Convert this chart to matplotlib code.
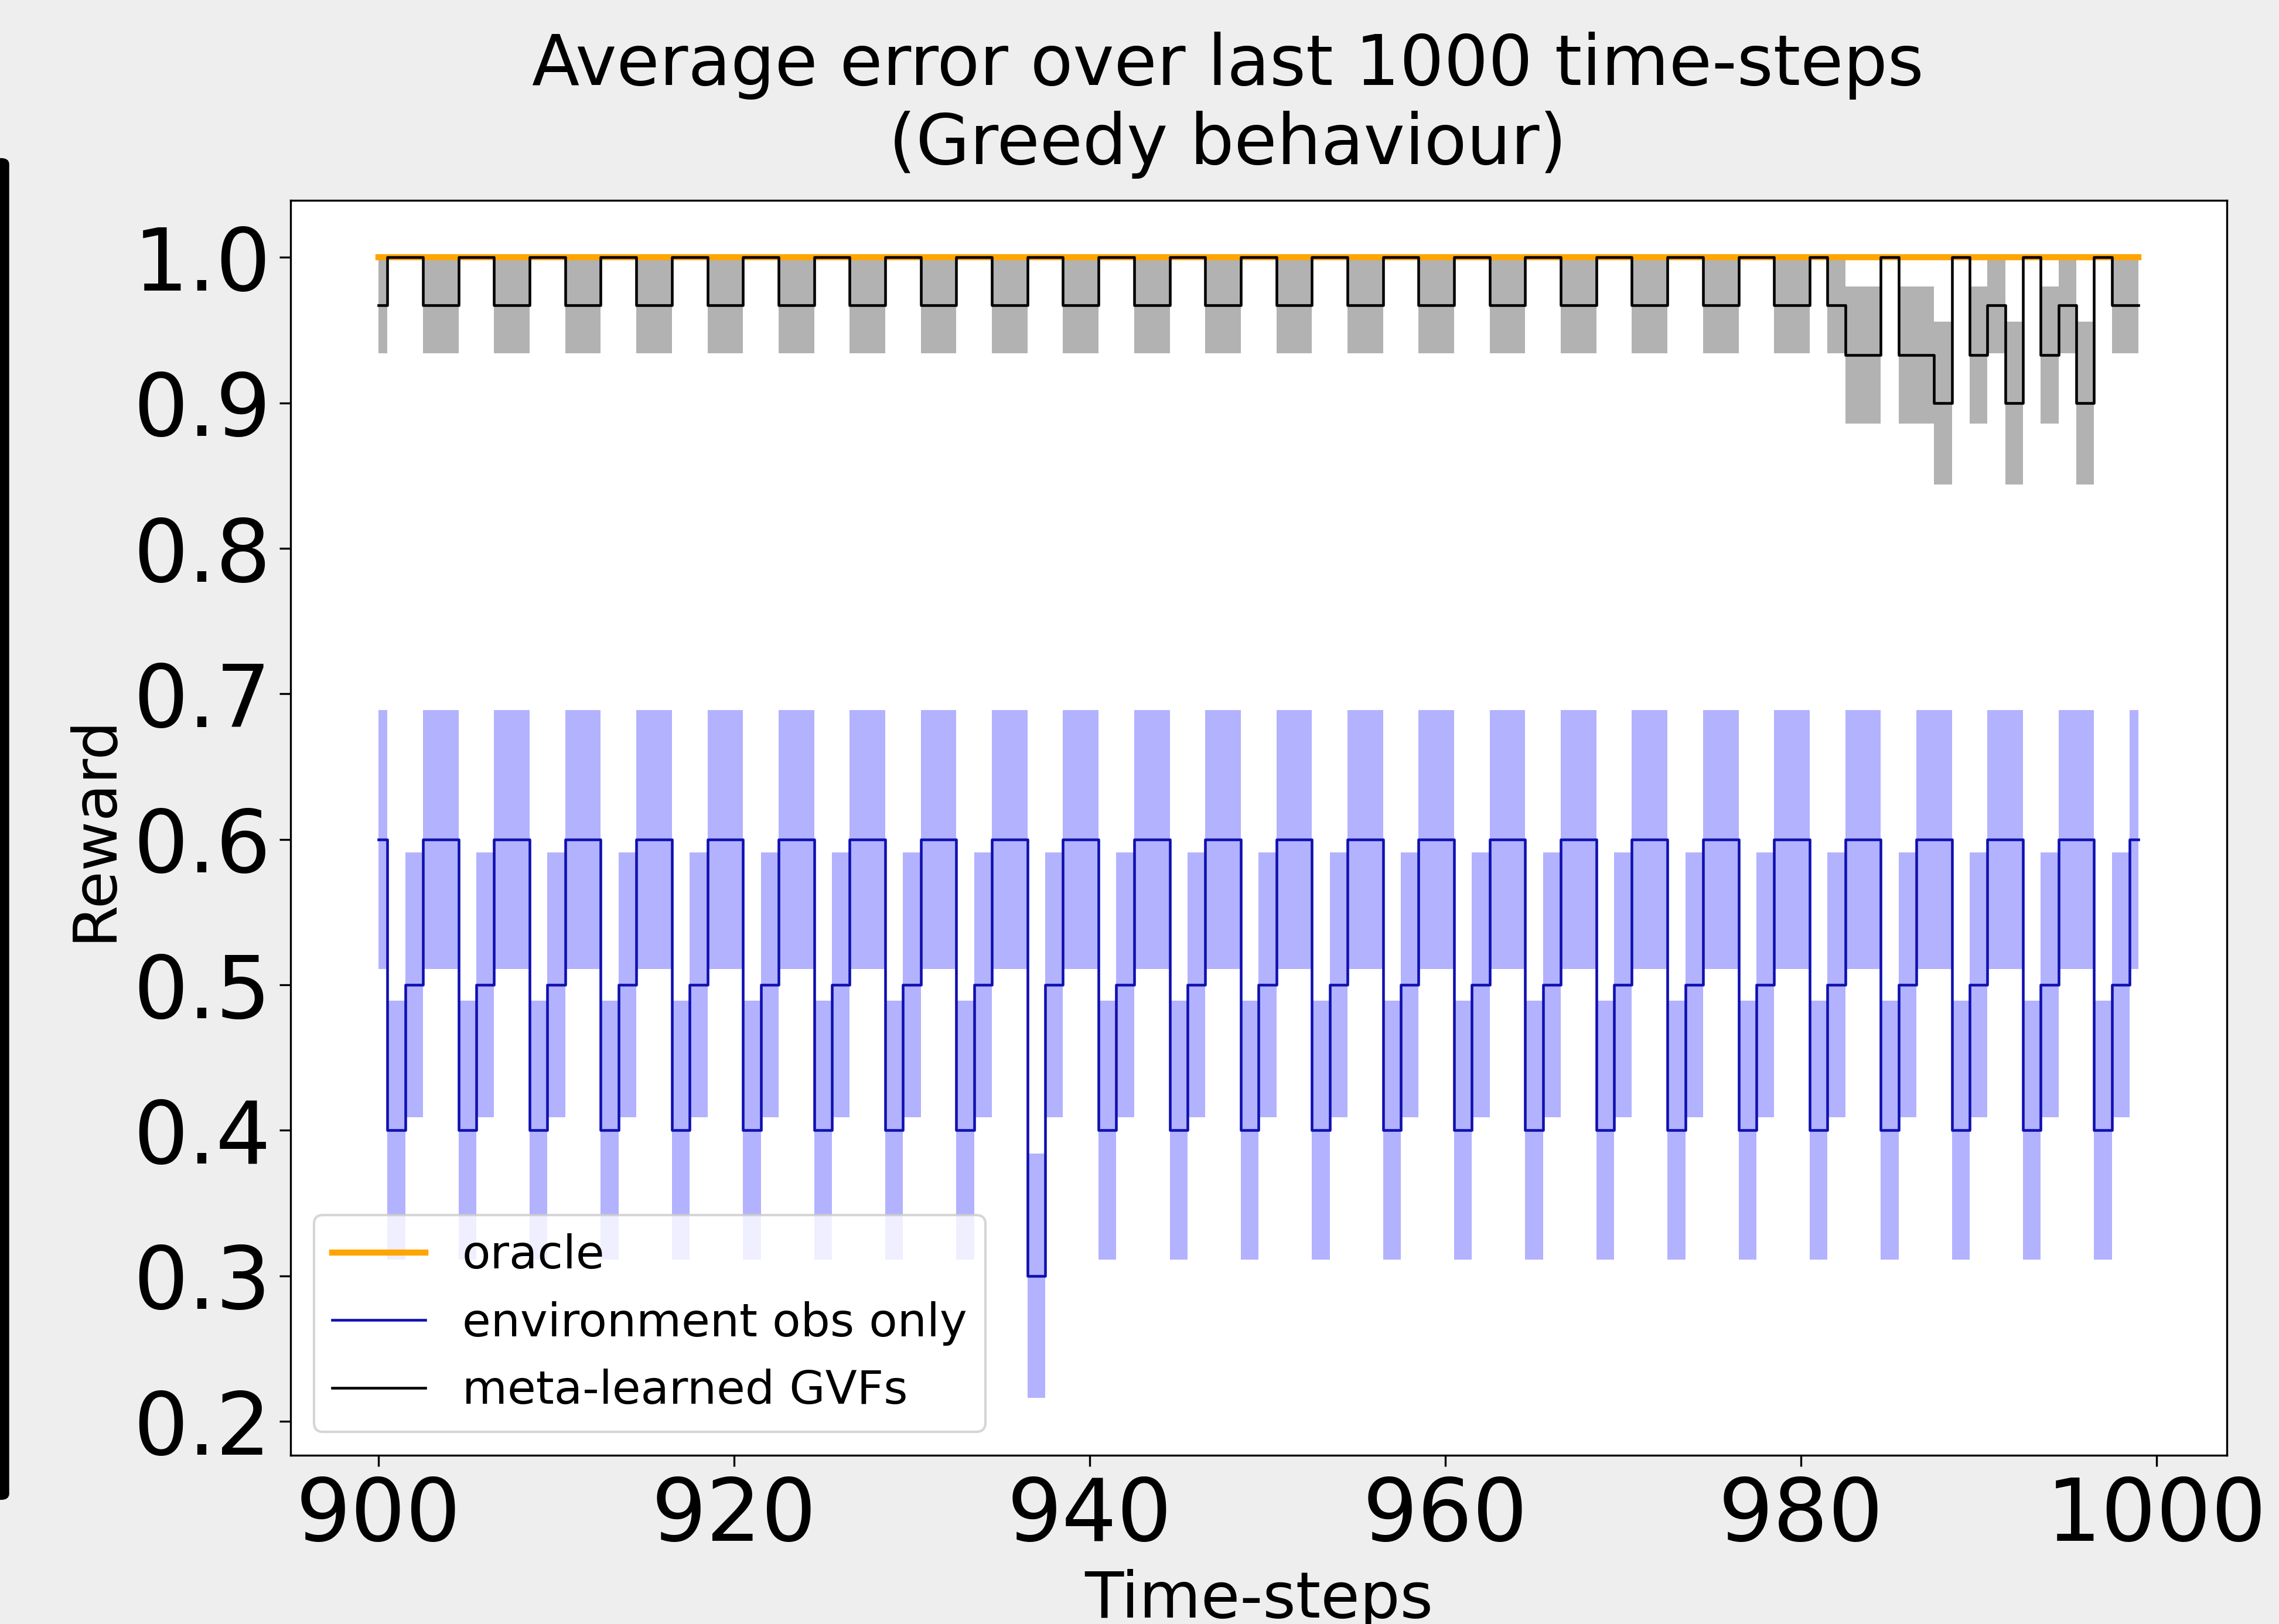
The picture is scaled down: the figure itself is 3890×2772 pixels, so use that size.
import numpy as np
import matplotlib
matplotlib.use('Agg')
import matplotlib.pyplot as plt
import matplotlib.patches as mpatches

# time-steps shown on the x axis
steps = np.arange(900, 1000)

oracle_mean = [1.0, 1.0, 1.0, 1.0, 1.0, 1.0, 1.0, 1.0, 1.0, 1.0, 1.0, 1.0, 1.0, 1.0, 1.0, 1.0, 1.0, 1.0, 1.0, 1.0,
               1.0, 1.0, 1.0, 1.0, 1.0, 1.0, 1.0, 1.0, 1.0, 1.0, 1.0, 1.0, 1.0, 1.0, 1.0, 1.0, 1.0, 1.0, 1.0, 1.0,
               1.0, 1.0, 1.0, 1.0, 1.0, 1.0, 1.0, 1.0, 1.0, 1.0, 1.0, 1.0, 1.0, 1.0, 1.0, 1.0, 1.0, 1.0, 1.0, 1.0,
               1.0, 1.0, 1.0, 1.0, 1.0, 1.0, 1.0, 1.0, 1.0, 1.0, 1.0, 1.0, 1.0, 1.0, 1.0, 1.0, 1.0, 1.0, 1.0, 1.0,
               1.0, 1.0, 1.0, 1.0, 1.0, 1.0, 1.0, 1.0, 1.0, 1.0, 1.0, 1.0, 1.0, 1.0, 1.0, 1.0, 1.0, 1.0, 1.0, 1.0]

env_mean = [0.6, 0.4, 0.5, 0.6, 0.6, 0.4, 0.5, 0.6, 0.6, 0.4, 0.5, 0.6, 0.6, 0.4, 0.5, 0.6, 0.6, 0.4, 0.5, 0.6,
            0.6, 0.4, 0.5, 0.6, 0.6, 0.4, 0.5, 0.6, 0.6, 0.4, 0.5, 0.6, 0.6, 0.4, 0.5, 0.6, 0.6, 0.3, 0.5, 0.6,
            0.6, 0.4, 0.5, 0.6, 0.6, 0.4, 0.5, 0.6, 0.6, 0.4, 0.5, 0.6, 0.6, 0.4, 0.5, 0.6, 0.6, 0.4, 0.5, 0.6,
            0.6, 0.4, 0.5, 0.6, 0.6, 0.4, 0.5, 0.6, 0.6, 0.4, 0.5, 0.6, 0.6, 0.4, 0.5, 0.6, 0.6, 0.4, 0.5, 0.6,
            0.6, 0.4, 0.5, 0.6, 0.6, 0.4, 0.5, 0.6, 0.6, 0.4, 0.5, 0.6, 0.6, 0.4, 0.5, 0.6, 0.6, 0.4, 0.5, 0.6]

env_se = [0.089, 0.089, 0.091, 0.089, 0.089, 0.089, 0.091, 0.089, 0.089, 0.089, 0.091, 0.089, 0.089, 0.089, 0.091, 0.089, 0.089, 0.089, 0.091, 0.089,
          0.089, 0.089, 0.091, 0.089, 0.089, 0.089, 0.091, 0.089, 0.089, 0.089, 0.091, 0.089, 0.089, 0.089, 0.091, 0.089, 0.089, 0.084, 0.091, 0.089,
          0.089, 0.089, 0.091, 0.089, 0.089, 0.089, 0.091, 0.089, 0.089, 0.089, 0.091, 0.089, 0.089, 0.089, 0.091, 0.089, 0.089, 0.089, 0.091, 0.089,
          0.089, 0.089, 0.091, 0.089, 0.089, 0.089, 0.091, 0.089, 0.089, 0.089, 0.091, 0.089, 0.089, 0.089, 0.091, 0.089, 0.089, 0.089, 0.091, 0.089,
          0.089, 0.089, 0.091, 0.089, 0.089, 0.089, 0.091, 0.089, 0.089, 0.089, 0.091, 0.089, 0.089, 0.089, 0.091, 0.089, 0.089, 0.089, 0.091, 0.089]

meta_mean = [0.967, 1.0, 1.0, 0.967, 0.967, 1.0, 1.0, 0.967, 0.967, 1.0, 1.0, 0.967, 0.967, 1.0, 1.0, 0.967, 0.967, 1.0, 1.0, 0.967,
             0.967, 1.0, 1.0, 0.967, 0.967, 1.0, 1.0, 0.967, 0.967, 1.0, 1.0, 0.967, 0.967, 1.0, 1.0, 0.967, 0.967, 1.0, 1.0, 0.967,
             0.967, 1.0, 1.0, 0.967, 0.967, 1.0, 1.0, 0.967, 0.967, 1.0, 1.0, 0.967, 0.967, 1.0, 1.0, 0.967, 0.967, 1.0, 1.0, 0.967,
             0.967, 1.0, 1.0, 0.967, 0.967, 1.0, 1.0, 0.967, 0.967, 1.0, 1.0, 0.967, 0.967, 1.0, 1.0, 0.967, 0.967, 1.0, 1.0, 0.967,
             0.967, 1.0, 0.967, 0.933, 0.933, 1.0, 0.933, 0.933, 0.9, 1.0, 0.933, 0.967, 0.9, 1.0, 0.933, 0.967, 0.9, 1.0, 0.967, 0.967]

meta_se = [0.033, 0.0, 0.0, 0.033, 0.033, 0.0, 0.0, 0.033, 0.033, 0.0, 0.0, 0.033, 0.033, 0.0, 0.0, 0.033, 0.033, 0.0, 0.0, 0.033,
           0.033, 0.0, 0.0, 0.033, 0.033, 0.0, 0.0, 0.033, 0.033, 0.0, 0.0, 0.033, 0.033, 0.0, 0.0, 0.033, 0.033, 0.0, 0.0, 0.033,
           0.033, 0.0, 0.0, 0.033, 0.033, 0.0, 0.0, 0.033, 0.033, 0.0, 0.0, 0.033, 0.033, 0.0, 0.0, 0.033, 0.033, 0.0, 0.0, 0.033,
           0.033, 0.0, 0.0, 0.033, 0.033, 0.0, 0.0, 0.033, 0.033, 0.0, 0.0, 0.033, 0.033, 0.0, 0.0, 0.033, 0.033, 0.0, 0.0, 0.033,
           0.033, 0.0, 0.033, 0.047, 0.047, 0.0, 0.047, 0.047, 0.056, 0.0, 0.047, 0.033, 0.056, 0.0, 0.047, 0.033, 0.056, 0.0, 0.033, 0.033]

xticks = [900, 920, 940, 960, 980, 1000]
yticks = [0.2, 0.3, 0.4, 0.5, 0.6, 0.7, 0.8, 0.9, 1.0]

env_mean = np.array(env_mean)
env_se = np.array(env_se)
meta_mean = np.array(meta_mean)
meta_se = np.array(meta_se)

fig = plt.figure(figsize=(3890 / 300, 2772 / 300), dpi=300, facecolor='#eeeeee')
ax = fig.add_axes([0.1275, 0.104, 0.8495, 0.7726])

ax.plot(steps, oracle_mean, color='orange', lw=2.5, drawstyle='steps-mid', label='oracle')

ax.plot(steps, env_mean, color='#1010b0', lw=1.1, drawstyle='steps-mid', label='environment obs only')
ax.fill_between(steps, env_mean - env_se, env_mean + env_se, step='mid', color='blue', alpha=0.3, lw=0)

ax.plot(steps, meta_mean, color='black', lw=1.1, drawstyle='steps-mid', label='meta-learned GVFs')
ax.fill_between(steps, meta_mean - meta_se, meta_mean + meta_se, step='mid', color='black', alpha=0.3, lw=0)

ax.set_xticks(xticks)
ax.set_yticks(yticks)
ax.tick_params(labelsize=35.5, length=4.5, width=0.8)
ax.set_xlabel('Time-steps', fontsize=26)
ax.set_ylabel('Reward', fontsize=25)
ax.set_title('Average error over last 1000 time-steps\n(Greedy behaviour)', fontsize=28.5, x=0.484, pad=15)
ax.legend(loc='lower left', fontsize=19)

# dark bar at the left edge of the screenshot
bar = mpatches.FancyBboxPatch((-0.006, 0.0772), 0.0095, 0.8247,
                              boxstyle='round,pad=0,rounding_size=0.003',
                              transform=fig.transFigure, color='black', clip_on=False)
fig.patches.append(bar)

fig.savefig('out.png', dpi=300, facecolor=fig.get_facecolor())
